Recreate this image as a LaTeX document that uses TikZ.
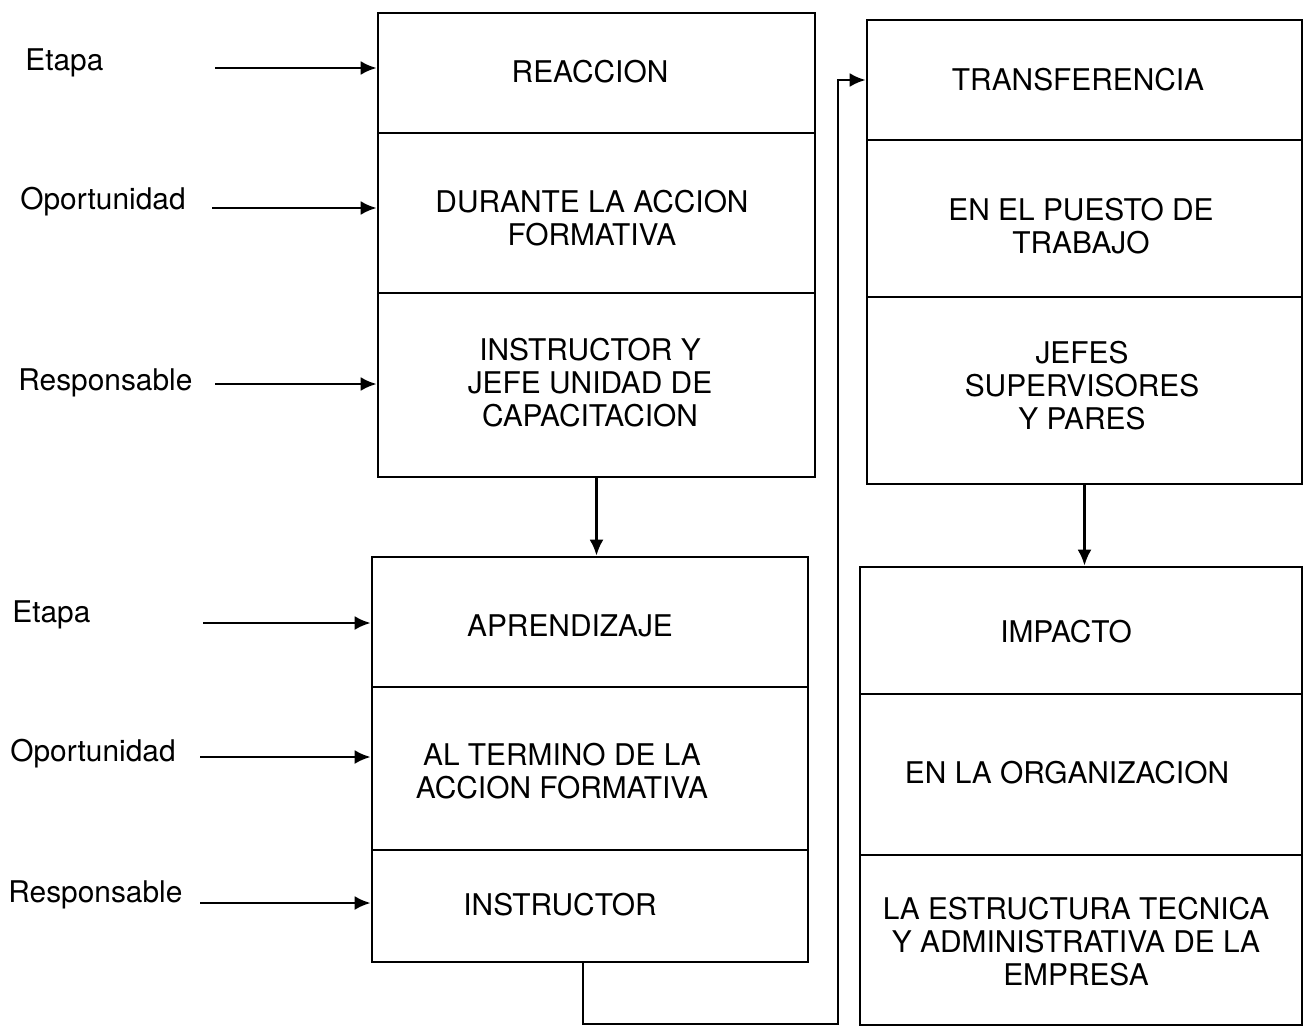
\documentclass[tikz,border=0pt]{standalone}
\usepackage{fontspec}
\setmainfont{TeX Gyre Heros}
\usepackage{tikz}
\usetikzlibrary{arrows.meta,fit}

\tikzset{
  seccion/.style={draw, line width=1.5pt, inner sep=0pt},
  texto/.style={align=center, inner sep=0pt, font=\fontsize{17}{18.8}\selectfont},
  etiqueta/.style={anchor=west, inner sep=0pt, font=\fontsize{17}{18.8}\selectfont},
  flecha/.style={line width=1.6pt, -{Latex[length=3.2mm,width=2.8mm]}}
}

\begin{document}
\begin{tikzpicture}[x=0.02cm, y=-0.02cm]
    \useasboundingbox (0,0) rectangle (1308,1028);

    \node[seccion, fit={(378,13) (815,133)}] (reac1) {};
    \node[seccion, fit={(378,133) (815,293)}] (reac2) {};
    \node[seccion, fit={(378,293) (815,477)}] (reac3) {};
    \node[texto] (treac1) at (590,72) {REACCION};
    \node[texto] (treac2) at (592,218) {DURANTE LA ACCION\\FORMATIVA};
    \node[texto] (treac3) at (590,383) {INSTRUCTOR Y\\JEFE UNIDAD DE\\CAPACITACION};

    \node[seccion, fit={(372,557) (808,687)}] (apr1) {};
    \node[seccion, fit={(372,687) (808,850)}] (apr2) {};
    \node[seccion, fit={(372,850) (808,962)}] (apr3) {};
    \node[texto] (tapr1) at (570,626) {APRENDIZAJE};
    \node[texto] (tapr2) at (562,771) {AL TERMINO DE LA\\ACCION FORMATIVA};
    \node[texto] (tapr3) at (560,905) {INSTRUCTOR};

    \node[seccion, fit={(867,20) (1302,140)}] (tra1) {};
    \node[seccion, fit={(867,140) (1302,297)}] (tra2) {};
    \node[seccion, fit={(867,297) (1302,484)}] (tra3) {};
    \node[texto] (ttra1) at (1078,80) {TRANSFERENCIA};
    \node[texto] (ttra2) at (1081,226) {EN EL PUESTO DE\\TRABAJO};
    \node[texto] (ttra3) at (1082,386) {JEFES\\SUPERVISORES\\Y PARES};

    \node[seccion, fit={(860,567) (1302,694)}] (imp1) {};
    \node[seccion, fit={(860,694) (1302,855)}] (imp2) {};
    \node[seccion, fit={(860,855) (1302,1025)}] (imp3) {};
    \node[texto] (timp1) at (1066,632) {IMPACTO};
    \node[texto] (timp2) at (1067,773) {EN LA ORGANIZACION};
    \node[texto] (timp3) at (1076,942) {LA ESTRUCTURA TECNICA\\Y ADMINISTRATIVA DE LA\\EMPRESA};

    \node[etiqueta] (eta1) at (25,63) {Etapa};
    \node[etiqueta] (opo1) at (20,202) {Oportunidad};
    \node[etiqueta] (res1) at (18,383) {Responsable};
    \node[etiqueta] (eta2) at (12,615) {Etapa};
    \node[etiqueta] (opo2) at (10,754) {Oportunidad};
    \node[etiqueta] (res2) at (8,895) {Responsable};

    \coordinate (a1) at (215,68);
    \coordinate (a2) at (212,208);
    \coordinate (a3) at (215,384);
    \coordinate (a4) at (203,623);
    \coordinate (a5) at (200,757);
    \coordinate (a6) at (200,903);
    \draw[flecha] (a1) -- (a1 -| reac1.west);
    \draw[flecha] (a2) -- (a2 -| reac2.west);
    \draw[flecha] (a3) -- (a3 -| reac3.west);
    \draw[flecha] (a4) -- (a4 -| apr1.west);
    \draw[flecha] (a5) -- (a5 -| apr2.west);
    \draw[flecha] (a6) -- (a6 -| apr3.west);

    \draw[flecha] (reac3.south) -- (reac3.south |- apr1.north);
    \draw[flecha] (tra3.south) -- (tra3.south |- imp1.north);

    \coordinate (c1) at (583,1024);
    \coordinate (c2) at (838,1024);
    \draw[flecha] (apr3.south -| c1) -- (c1) -- (c2) |- (tra1.west);
\end{tikzpicture}
\end{document}
